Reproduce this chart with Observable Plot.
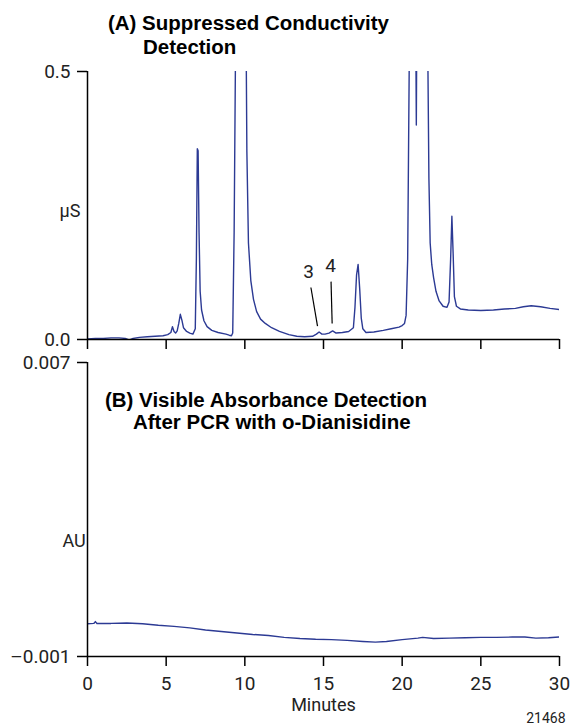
<!DOCTYPE html>
<html>
<head>
<meta charset="utf-8">
<script src="https://cdn.jsdelivr.net/npm/d3@7"></script>
<script src="https://cdn.jsdelivr.net/npm/@observablehq/plot@0.6"></script>
<style>
  html, body { margin: 0; padding: 0; background: #fff; }
  body { width: 574px; height: 726px; position: relative; overflow: hidden; font-family: Roboto, "Liberation Sans", sans-serif; }
  .panel { position: absolute; left: 0; }
  #panelA { top: 0; }
  #panelB { top: 340px; }
  .title { position: absolute; font-family: "Liberation Sans", Arial, sans-serif; font-weight: bold; font-size: 20px; line-height: 22px; color: #000; white-space: pre; transform-origin: 0 50%; }
</style>
</head>
<body>
<div id="panelA" class="panel"></div>
<div id="panelB" class="panel"></div>
<div class="title" style="left:108px; top:12px;">(A) Suppressed Conductivity</div>
<div class="title" style="left:143px; top:36px;">Detection</div>
<div class="title" id="refTitle" style="left:105px; top:389px;">(B) Visible Absorbance Detection</div>
<div class="title" style="left:133px; top:411px;">After PCR with ο-Dianisidine</div>
<script>
// ---------- Data ----------
// Panel A: suppressed conductivity trace (minutes, µS)
const condMinutes = [
  0.0, 0.5, 1.0, 1.5, 2.0, 2.4, 2.65, 2.9, 3.3, 3.8, 4.3, 4.8, 5.1, 5.3, 5.4, 5.5, 5.6, 5.7, 5.8, 5.9,
  6.0, 6.1, 6.3, 6.5, 6.7, 6.85, 6.92, 6.98, 7.03, 7.09, 7.16, 7.25, 7.4, 7.6, 7.9, 8.3, 8.8, 9.0, 9.15, 9.23,
  9.32, 9.45, 9.7, 9.9, 10.05, 10.13, 10.23, 10.38, 10.55, 10.75, 11.0, 11.3, 11.7, 12.2, 12.8, 13.3, 13.8, 14.3, 14.55, 14.72,
  14.9, 15.1, 15.35, 15.58, 15.8, 16.2, 16.6, 16.9, 17.0, 17.1, 17.2, 17.3, 17.4, 17.5, 17.7, 18.2, 18.8, 19.3, 19.8, 20.0,
  20.15, 20.25, 20.35, 20.5, 20.8, 20.9, 20.98, 21.3, 21.58, 21.7, 21.78, 21.88, 22.0, 22.15, 22.35, 22.6, 22.85, 22.98, 23.08, 23.16,
  23.24, 23.32, 23.45, 23.7, 24.2, 25.0, 25.8, 26.5, 27.2, 27.7, 28.2, 28.8, 29.4, 30.0
];
const condValues = [
  0.001, 0.002, 0.002, 0.003, 0.003, 0.002, -0.001, 0.002, 0.004, 0.005, 0.006, 0.007, 0.009, 0.013, 0.024, 0.015, 0.012, 0.016, 0.030, 0.047,
  0.036, 0.022, 0.015, 0.012, 0.010, 0.020, 0.150, 0.356, 0.352, 0.200, 0.090, 0.055, 0.035, 0.024, 0.017, 0.013, 0.010, 0.008, 0.007, 0.012,
  0.200, 0.700, 1.000, 1.000, 0.700, 0.350, 0.180, 0.110, 0.075, 0.052, 0.038, 0.030, 0.022, 0.015, 0.009, 0.006, 0.005, 0.006, 0.010, 0.014,
  0.010, 0.010, 0.012, 0.016, 0.012, 0.013, 0.015, 0.022, 0.060, 0.120, 0.140, 0.095, 0.040, 0.020, 0.013, 0.014, 0.017, 0.020, 0.023, 0.026,
  0.030, 0.045, 0.150, 0.700, 0.900, 0.400, 0.900, 1.000, 0.700, 0.300, 0.180, 0.140, 0.115, 0.090, 0.072, 0.062, 0.060, 0.070, 0.150, 0.230,
  0.160, 0.080, 0.062, 0.057, 0.055, 0.054, 0.055, 0.057, 0.058, 0.061, 0.063, 0.061, 0.058, 0.056
];

// Panel B: visible absorbance trace (minutes, AU)
const absMinutes = [
  0.0, 0.4, 0.5, 0.6, 1.5, 2.5, 3.5, 4.5, 5.5, 6.5, 7.5, 8.5, 9.5, 10.5, 11.5, 12.5, 13.5, 14.5, 15.5, 16.5,
  17.5, 18.3, 19.0, 20.0, 21.0, 21.3, 22.0, 23.0, 24.0, 25.0, 26.0, 27.0, 27.8, 28.5, 29.3, 30.0
];
const absValues = [
  -0.00011, -0.00010, -0.00005, -0.00010, -0.00010, -0.00009, -0.00011, -0.00015, -0.00018, -0.00022, -0.00028, -0.00032, -0.00036, -0.00040, -0.00043, -0.00048, -0.00051, -0.00053, -0.00054, -0.00056,
  -0.00059, -0.00061, -0.00059, -0.00054, -0.00050, -0.00048, -0.00051, -0.00050, -0.00049, -0.00048, -0.00048, -0.00047, -0.00047, -0.00050, -0.00049, -0.00047
];

// Axis ticks and labels
const xTicks = [0, 5, 10, 15, 20, 25, 30];
const yTicksA = [0, 0.5];
const yTickLabelsA = ["0.0", "0.5"];
const yTicksB = [-0.001, 0.007];
const yTickLabelsB = ["\u20130.001", "0.007"];

// Peak annotations (panel A)
const peakNames = ["3", "4"];
const peakLabelMinutes = [14.05, 15.45];
const peakLabelValues = [0.126, 0.137];
const leaderStartMinutes = [14.2, 15.48];
const leaderStartValues = [0.097, 0.108];
const leaderEndMinutes = [14.62, 15.55];
const leaderEndValues = [0.025, 0.030];

// ---------- Build tables ----------
const condData = condMinutes.map((t, i) => ({t, v: condValues[i]}));
const absData = absMinutes.map((t, i) => ({t, v: absValues[i]}));
const peakLabels = peakNames.map((name, i) => ({name, t: peakLabelMinutes[i], v: peakLabelValues[i]}));
const leaders = peakNames.map((name, i) => ({
  t1: leaderStartMinutes[i], v1: leaderStartValues[i], t2: leaderEndMinutes[i], v2: leaderEndValues[i]
}));

const traceColor = "#2c3a94";
const font = "Roboto, 'Liberation Sans', sans-serif";

const plotA = Plot.plot({
  width: 574, height: 360,
  marginLeft: 87, marginRight: 15, marginTop: 71, marginBottom: 21,
  x: {domain: [0, 30], axis: null},
  y: {domain: [0, 0.5], axis: null},
  style: {fontFamily: font, fontSize: "19px", color: "#222", background: "transparent", overflow: "visible"},
  marks: [
    Plot.line(condData, {x: "t", y: "v", stroke: traceColor, strokeWidth: 1.4, clip: true}),
    Plot.link(leaders, {x1: "t1", y1: "v1", x2: "t2", y2: "v2", stroke: "#000", strokeWidth: 1.2}),
    Plot.text(peakLabels, {x: "t", y: "v", text: "name", fontSize: 19, fill: "#222"}),
    Plot.ruleX([0], {stroke: "#000", strokeWidth: 1.5}),
    Plot.ruleY([0], {stroke: "#000", strokeWidth: 1.5}),
    Plot.axisX({ticks: xTicks, tickSize: 10, tickFormat: () => "", stroke: "#000", strokeWidth: 1.5}),
    Plot.axisY({ticks: yTicksA, tickSize: 10, tickPadding: 7, tickFormat: (d, i) => yTickLabelsA[i],
      stroke: "#000", strokeWidth: 1.5, fontSize: 19, label: null}),
    Plot.text(["µS"], {frameAnchor: "left", dx: -28, dy: 6, fontSize: 18, fill: "#222"})
  ]
});
document.getElementById("panelA").appendChild(plotA);

const plotB = Plot.plot({
  width: 574, height: 386,
  marginLeft: 87, marginRight: 15, marginTop: 22, marginBottom: 70,
  x: {domain: [0, 30], axis: null},
  y: {domain: [-0.001, 0.007], axis: null},
  style: {fontFamily: font, fontSize: "19px", color: "#222", background: "transparent", overflow: "visible"},
  marks: [
    Plot.line(absData, {x: "t", y: "v", stroke: traceColor, strokeWidth: 1.4, clip: true}),
    Plot.ruleX([0], {stroke: "#000", strokeWidth: 1.5}),
    Plot.ruleY([-0.001], {stroke: "#000", strokeWidth: 1.5}),
    Plot.axisX({ticks: xTicks, tickSize: 10, tickPadding: 10, stroke: "#000", strokeWidth: 1.5, fontSize: 19, label: null}),
    Plot.axisY({ticks: yTicksB, tickSize: 10, tickPadding: 7, tickFormat: (d, i) => yTickLabelsB[i],
      stroke: "#000", strokeWidth: 1.5, fontSize: 19, label: null}),
    Plot.text(["AU"], {frameAnchor: "left", dx: -25, dy: 32, fontSize: 18, fill: "#222"}),
    Plot.text(["Minutes"], {frameAnchor: "bottom", dy: 54, fontSize: 18, fill: "#222"}),
    Plot.text(["21468"], {frameAnchor: "bottom-right", dx: 6, dy: 66, textAnchor: "end", fontSize: 14, fill: "#222"})
  ]
});
document.getElementById("panelB").appendChild(plotB);

// Condense the bold titles so that "(B) Visible Absorbance Detection" spans its reference width
const ref = document.getElementById("refTitle");
const squeeze = 322 / ref.getBoundingClientRect().width;
document.querySelectorAll(".title").forEach(el => { el.style.transform = `scaleX(${squeeze})`; });
</script>
</body>
</html>
